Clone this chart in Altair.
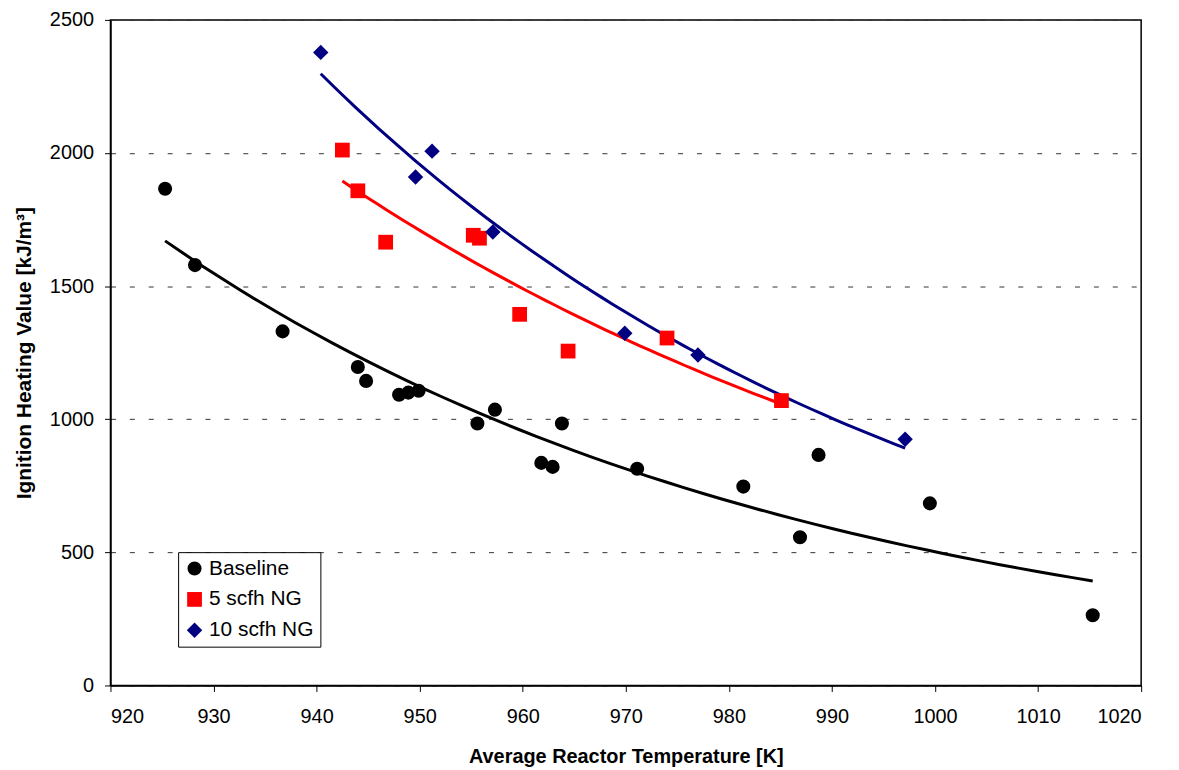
import altair as alt
import pandas as pd

base_T = [925.3, 928.2, 936.7, 944.0, 944.8, 948.0, 948.9, 949.9, 955.6, 957.3,
          961.8, 962.9, 963.8, 971.1, 981.4, 986.9, 988.7, 999.5, 1015.3]
base_H = [1866, 1579, 1330, 1196, 1144, 1092, 1100, 1107, 984, 1036,
          836, 821, 984, 814, 747, 557, 866, 684, 264]

ng5_T = [942.5, 944.0, 946.7, 955.2, 955.8, 959.7, 964.4, 974.0, 985.1]
ng5_H = [2011, 1858, 1665, 1691, 1680, 1394, 1256, 1305, 1070]

ng10_T = [940.4, 949.6, 951.2, 957.1, 969.9, 977.0, 997.1]
ng10_H = [2378, 1910, 2007, 1703, 1323, 1241, 925]

series_names = ["Baseline", "5 scfh NG", "10 scfh NG"]
series_colors = ["#000000", "#FF0000", "#000080"]
series_shapes = ["circle", "square", "diamond"]
series_sizes = [200, 240, 190]

rows = []
for name, T, H in [(series_names[0], base_T, base_H),
                   (series_names[1], ng5_T, ng5_H),
                   (series_names[2], ng10_T, ng10_H)]:
    for t, h in zip(T, H):
        rows.append({"T": t, "H": h, "series": name})
df = pd.DataFrame(rows)

FONT = "Liberation Sans"

x_enc = alt.X("T:Q", scale=alt.Scale(domain=[920, 1020], nice=False, zero=False),
              axis=alt.Axis(title="Average Reactor Temperature [K]", format="d",
                            values=list(range(920, 1021, 10)), grid=False))
y_enc = alt.Y("H:Q", scale=alt.Scale(domain=[0, 2500], nice=False),
              axis=alt.Axis(title="Ignition Heating Value [kJ/m³]", format="d",
                            values=[0, 500, 1000, 1500, 2000, 2500],
                            grid=True, gridDash=[5, 14], gridColor="#333333",
                            gridWidth=1, titleFontSize=21))

color_scale = alt.Scale(domain=series_names, range=series_colors)
legend = alt.Legend(title=None, orient="none", legendX=68, legendY=535,
                    strokeColor="#000000", fillColor="#FFFFFF",
                    padding=6, rowPadding=9, labelFontSize=21,
                    labelFont=FONT, labelColor="#000000",
                    symbolSize=210, labelOffset=4, symbolStrokeWidth=0,
                    symbolOpacity=1)

# Excel-style exponential trendline: linear least squares of ln(H) on T,
# then sampled along T between each series' extremes and mapped back with exp.
lines = alt.Chart(df).transform_calculate(
    lnH="log(datum.H)"
).transform_regression(
    "T", "lnH", method="linear", groupby=["series"]
).transform_aggregate(
    lo="argmin(T)", hi="argmax(T)", groupby=["series"]
).transform_calculate(
    T0="datum.lo.T", T1="datum.hi.T", l0="datum.lo.lnH", l1="datum.hi.lnH",
    s="sequence(0, 1.0001, 0.02)"
).transform_flatten(
    ["s"]
).transform_calculate(
    T="datum.T0 + datum.s * (datum.T1 - datum.T0)",
    H="exp(datum.l0 + datum.s * (datum.l1 - datum.l0))"
).mark_line(strokeWidth=3, clip=True).encode(
    x=x_enc, y=y_enc,
    color=alt.Color("series:N", scale=color_scale, legend=legend),
    order="s:Q",
)

points = alt.Chart(df).mark_point(filled=True, opacity=1).encode(
    x=x_enc, y=y_enc,
    color=alt.Color("series:N", scale=color_scale, legend=legend),
    shape=alt.Shape("series:N", scale=alt.Scale(domain=series_names, range=series_shapes),
                    legend=legend),
    size=alt.Size("series:N", scale=alt.Scale(domain=series_names, range=series_sizes),
                  legend=None),
)

chart = alt.layer(lines, points).properties(
    width=1036, height=669,
    autosize=alt.AutoSizeParams(type="none"),
    padding={"left": 103, "top": 10, "right": 30, "bottom": 80},
).configure_view(
    stroke="#000000", strokeWidth=1.5
).configure_axis(
    labelFont=FONT, labelFontSize=20, labelColor="#000000",
    titleFont=FONT, titleFontSize=20, titleFontWeight="bold", titleColor="#000000",
    domainColor="#000000", domainWidth=1.5, tickColor="#000000", tickSize=6,
    labelPadding=8,
).configure_axisX(
    titlePadding=20, labelPadding=15
).configure_axisY(
    titlePadding=15, labelPadding=11
)

chart.save("out.html", embed_options={"renderer": "svg", "actions": False})
